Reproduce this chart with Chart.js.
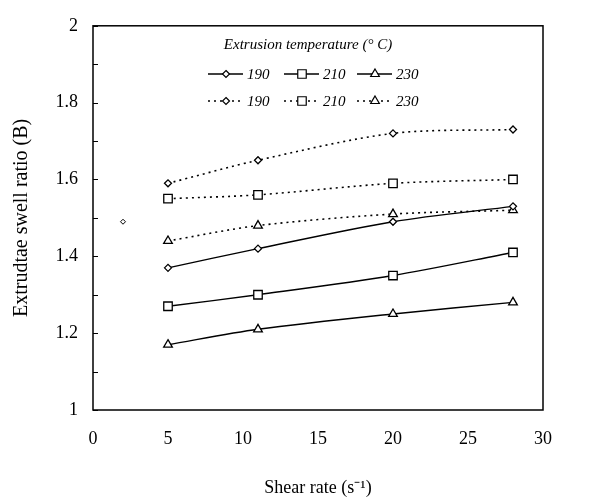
<!DOCTYPE html>
<html>
<head>
<meta charset="utf-8">
<script src="https://cdn.jsdelivr.net/npm/chart.js@4.4.0/dist/chart.umd.min.js"></script>
<style>
  html, body { margin: 0; padding: 0; background: #fff; }
</style>
</head>
<body>
<canvas id="myChart" width="594" height="503"></canvas>
<script>
const ctx = document.getElementById("myChart");

// data
const shear_rate = [5, 11, 20, 28];
const temps = ["190", "210", "230"];
const solid_190 = [1.37, 1.42, 1.49, 1.53];
const solid_210 = [1.27, 1.30, 1.35, 1.41];
const solid_230 = [1.17, 1.21, 1.25, 1.28];
const dotted_190 = [1.59, 1.65, 1.72, 1.73];
const dotted_210 = [1.55, 1.56, 1.59, 1.60];
const dotted_230 = [1.44, 1.48, 1.51, 1.52];
const stray_x = [2];
const stray_y = [1.49];
const x_ticks = [0, 5, 10, 15, 20, 25, 30];
const y_ticks = [1, 1.2, 1.4, 1.6, 1.8, 2];

const FONT = "'Liberation Serif', 'Times New Roman', serif";
const markers = ["rectRot", "rect", "triangle"];
const markerSize = { rectRot: 3.5, rect: 6, triangle: 5 };

function pts(ys) {
  return ys.map((y, i) => ({ x: shear_rate[i], y: y }));
}

function makeSet(label, ys, style, dotted) {
  return {
    label: label,
    data: pts(ys),
    borderColor: "#000",
    borderWidth: dotted ? 1.6 : 1.4,
    borderDash: dotted ? [2, 4] : [],
    pointStyle: style,
    pointRadius: markerSize[style],
    pointBorderWidth: 1.3,
    pointBackgroundColor: "#fff",
    pointBorderColor: "#000",
    tension: 0.3,
    fill: false,
  };
}

const datasets = [
  makeSet(temps[0], solid_190, markers[0], false),
  makeSet(temps[1], solid_210, markers[1], false),
  makeSet(temps[2], solid_230, markers[2], false),
  makeSet(temps[0], dotted_190, markers[0], true),
  makeSet(temps[1], dotted_210, markers[1], true),
  makeSet(temps[2], dotted_230, markers[2], true),
  {
    label: "stray",
    data: stray_x.map((x, i) => ({ x: x, y: stray_y[i] })),
    showLine: false,
    pointStyle: "rectRot",
    pointRadius: 2.5,
    pointBorderWidth: 1,
    pointBackgroundColor: "#fff",
    pointBorderColor: "#000",
  },
];

function drawMarker(c, style, x, y, r) {
  c.beginPath();
  if (style === "rect") {
    const s = r * Math.SQRT1_2;
    c.rect(x - s, y - s, 2 * s, 2 * s);
  } else if (style === "rectRot") {
    c.moveTo(x, y - r); c.lineTo(x + r, y); c.lineTo(x, y + r); c.lineTo(x - r, y); c.closePath();
  } else {
    const h = r * 1.5, w = r * Math.sqrt(3) / 2;
    c.moveTo(x, y - r); c.lineTo(x + w, y + h - r); c.lineTo(x - w, y + h - r); c.closePath();
  }
  c.fillStyle = "#fff";
  c.fill();
  c.lineWidth = 1.2;
  c.strokeStyle = "#000";
  c.stroke();
}

// frame, inward y ticks and the in-plot legend
const framePlugin = {
  id: "frame",
  afterDatasetsDraw(chart) {
    const c = chart.ctx;
    const a = chart.chartArea;
    const ys = chart.scales.y;
    c.save();
    c.strokeStyle = "#000";
    c.lineWidth = 1.5;
    c.strokeRect(a.left, a.top, a.right - a.left, a.bottom - a.top);
    c.lineWidth = 1;
    for (let v = 10; v <= 20; v++) {
      const py = Math.round(ys.getPixelForValue(v / 10)) + 0.5;
      c.beginPath();
      c.moveTo(a.left, py);
      c.lineTo(a.left + 5, py);
      c.stroke();
    }

    // legend
    c.fillStyle = "#000";
    c.textBaseline = "middle";
    c.textAlign = "center";
    c.font = "italic 15px " + FONT;
    c.fillText("Extrusion temperature (\u00B0 C)", 308, 45);
    c.textAlign = "left";
    const cols = [208, 284, 357];
    const rows = [74, 101];
    for (let r = 0; r < 2; r++) {
      for (let k = 0; k < 3; k++) {
        const ds = chart.data.datasets[r * 3 + k];
        const x0 = cols[k], y0 = rows[r];
        c.beginPath();
        c.setLineDash(r === 1 ? [2, 4] : []);
        c.lineWidth = r === 1 ? 1.6 : 1.4;
        c.moveTo(x0, y0);
        c.lineTo(x0 + 35, y0);
        c.stroke();
        c.setLineDash([]);
        drawMarker(c, ds.pointStyle, x0 + 18, y0, ds.pointRadius);
        c.fillStyle = "#000";
        c.font = "italic 15px " + FONT;
        c.fillText(ds.label, x0 + 39, y0 + 1);
      }
    }
    c.restore();
  },
};

new Chart(ctx, {
  type: "line",
  data: { datasets: datasets },
  plugins: [framePlugin],
  options: {
    responsive: false,
    animation: false,
    layout: { padding: { top: 20, right: 51, left: 0, bottom: 0 } },
    plugins: { legend: { display: false }, tooltip: { enabled: false } },
    scales: {
      x: {
        type: "linear",
        min: 0,
        max: 30,
        afterFit(s) { s.height = 93; },
        afterBuildTicks(s) { s.ticks = x_ticks.map((v) => ({ value: v })); },
        grid: { display: false, drawTicks: false },
        border: { display: false },
        ticks: { color: "#000", padding: 18, font: { family: FONT, size: 18 } },
        title: {
          display: true,
          text: "Shear rate (s\u207B\u00B9)",
          color: "#000",
          font: { family: FONT, size: 18 },
          padding: { top: 0, bottom: 4 },
        },
      },
      y: {
        type: "linear",
        min: 1,
        max: 2,
        afterFit(s) { s.width = 93; },
        afterBuildTicks(s) { s.ticks = y_ticks.map((v) => ({ value: v })); },
        grid: { display: false, drawTicks: false },
        border: { display: false },
        ticks: {
          color: "#000",
          padding: 15,
          font: { family: FONT, size: 18 },
          callback: (v) => String(parseFloat(v.toFixed(1))),
        },
        title: {
          display: true,
          text: "Extrudtae swell ratio (B)",
          color: "#000",
          font: { family: FONT, size: 20 },
          padding: { top: 10, bottom: 0 },
        },
      },
    },
  },
});
</script>
</body>
</html>
